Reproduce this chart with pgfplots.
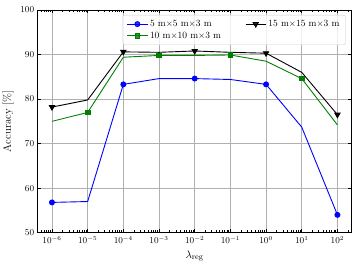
\documentclass[border=0pt]{standalone}
\usepackage{pgfplots}
\pgfplotsset{compat=1.18}
\definecolor{mplgreen}{rgb}{0,0.5,0}
\definecolor{gridgray}{HTML}{B0B0B0}
\begin{document}
\begin{tikzpicture}
\path[use as bounding box] (-37.7bp,-33.3bp) rectangle (319.3bp,232.7bp);
\begin{axis}[
  at={(0,0)}, anchor=south west,
  scale only axis, width=314bp, height=222.7bp,
  xmode=log, xmin=3.981e-7, xmax=251.19,
  ymin=50, ymax=100, ytick={50,60,70,80,90,100},
  xtick={1e-6,1e-5,1e-4,1e-3,1e-2,1e-1,1,10,100},
  xticklabels={$10^{-6}$,$10^{-5}$,$10^{-4}$,$10^{-3}$,$10^{-2}$,$10^{-1}$,$10^{0}$,$10^{1}$,$10^{2}$},
  minor xtick={4e-7,5e-7,6e-7,7e-7,8e-7,9e-7,
    2e-6,3e-6,4e-6,5e-6,6e-6,7e-6,8e-6,9e-6,
    2e-5,3e-5,4e-5,5e-5,6e-5,7e-5,8e-5,9e-5,
    2e-4,3e-4,4e-4,5e-4,6e-4,7e-4,8e-4,9e-4,
    2e-3,3e-3,4e-3,5e-3,6e-3,7e-3,8e-3,9e-3,
    2e-2,3e-2,4e-2,5e-2,6e-2,7e-2,8e-2,9e-2,
    2e-1,3e-1,4e-1,5e-1,6e-1,7e-1,8e-1,9e-1,
    2,3,4,5,6,7,8,9,
    20,30,40,50,60,70,80,90,200},
  grid=major, major grid style={gridgray, line width=0.6pt},
  tick align=inside, xtick pos=both, ytick pos=both,
  major tick length=3.5bp, minor tick length=2.5bp,
  every tick/.style={black, line width=0.8pt},
  axis line style={line width=0.6pt},
  tick label style={font=\fontsize{9}{10}\selectfont},
  label style={font=\fontsize{11}{13}\selectfont},
  xlabel={$\lambda_{\mathrm{reg}}$}, ylabel={Accuracy [\%]},
  legend style={at={(rel axis cs:1,1)}, xshift=-6bp, yshift=-5bp, anchor=north east,
    draw=gray!40, rounded corners=2pt, fill=white, fill opacity=0.8, text opacity=1,
    font=\fontsize{9.5}{11}\selectfont, inner xsep=4bp, inner ysep=3bp,
    /tikz/every even column/.append style={column sep=22bp}},
  legend columns=2,
  legend cell align=left,
  legend image code/.code={\draw[mark repeat=2,mark phase=2] plot coordinates {(0cm,0cm) (0.36cm,0cm) (0.72cm,0cm)};},
]
\addplot[blue, line width=0.9pt, mark=*, mark size=2.5bp, mark repeat=2, forget plot] coordinates {
(1e-6,56.8) (1e-5,57.0) (1e-4,83.3) (1e-3,84.6) (1e-2,84.6) (1e-1,84.4) (1,83.3) (10,73.7) (100,54.0)};
\addplot[mplgreen, line width=0.9pt, mark=square*, mark size=2.3bp, mark repeat=2, mark phase=2, forget plot] coordinates {
(1e-6,75.0) (1e-5,77.0) (1e-4,89.4) (1e-3,89.8) (1e-2,89.8) (1e-1,89.9) (1,88.5) (10,84.6) (100,74.2)};
\addplot[black, line width=0.9pt, mark=triangle*, mark options={rotate=180}, mark size=3bp, mark repeat=2, forget plot] coordinates {
(1e-6,78.2) (1e-5,79.8) (1e-4,90.6) (1e-3,90.5) (1e-2,90.8) (1e-1,90.5) (1,90.3) (10,86.0) (100,76.5)};
\addlegendimage{blue, line width=0.9pt, mark=*, mark size=2.5bp}
\addlegendimage{black, line width=0.9pt, mark=triangle*, mark options={rotate=180}, mark size=3bp}
\addlegendimage{mplgreen, line width=0.9pt, mark=square*, mark size=2.3bp}
\legend{5 m$\times$5 m$\times$3 m, 15 m$\times$15 m$\times$3 m, 10 m$\times$10 m$\times$3 m}
\end{axis}
\end{tikzpicture}
\end{document}
